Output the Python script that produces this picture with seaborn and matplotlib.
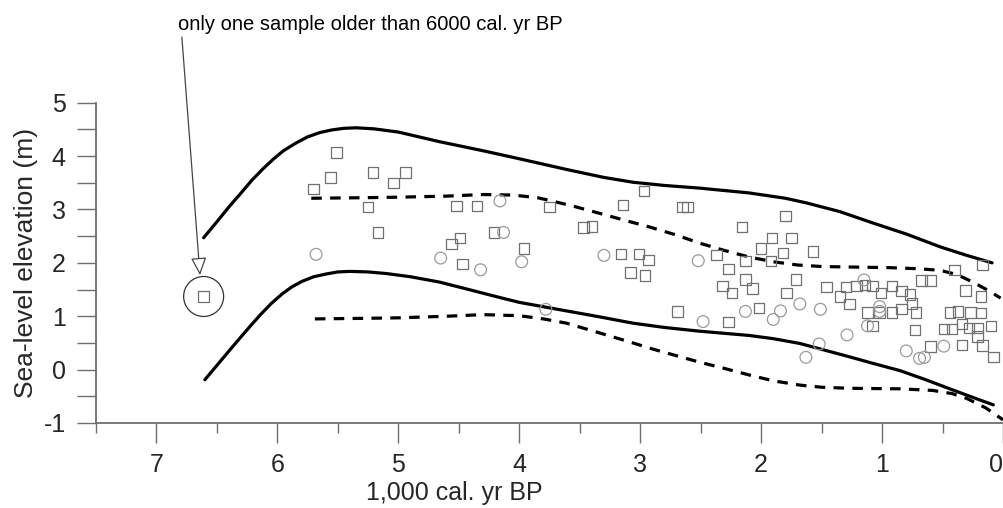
import matplotlib
matplotlib.use("Agg")
import matplotlib.pyplot as plt
from matplotlib.ticker import MultipleLocator
import seaborn as sns
import pandas as pd

# ---- data ----
sq_age = [5.51, 5.56, 5.70, 5.21, 4.94, 5.04, 5.25, 4.52, 4.35, 5.17, 4.49, 4.56, 4.21, 4.47,
          3.75, 3.96, 3.47, 3.40, 3.14, 2.97, 2.65, 2.61, 3.16, 3.01, 2.93, 3.08, 2.96, 2.16,
          2.37, 2.27, 2.32, 2.24, 2.13, 2.13, 2.69, 2.27, 1.80, 1.91, 1.75, 2.00, 1.82, 1.57,
          1.92, 2.07, 1.71, 1.79, 2.02, 1.46, 1.30, 1.21, 1.14, 1.08, 1.35, 1.27, 1.01, 0.92,
          0.84, 0.77, 0.75, 1.12, 1.02, 0.92, 0.84, 0.72, 1.08, 0.73, 0.675, 0.60, 0.40, 0.17,
          0.31, 0.18, 0.44, 0.37, 0.27, 0.18, 0.34, 0.49, 0.42, 0.28, 0.21, 0.10, 0.21, 0.60,
          0.34, 0.17, 0.08, 6.61]
sq_elev = [4.07, 3.60, 3.38, 3.69, 3.69, 3.50, 3.05, 3.07, 3.07, 2.57, 2.47, 2.35, 2.57, 1.98,
           3.05, 2.27, 2.66, 2.68, 3.08, 3.35, 3.05, 3.05, 2.17, 2.17, 2.05, 1.82, 1.76, 2.67,
           2.15, 1.88, 1.57, 1.43, 2.03, 1.69, 1.09, 0.89, 2.88, 2.46, 2.46, 2.27, 2.19, 2.21,
           2.04, 1.52, 1.69, 1.43, 1.15, 1.55, 1.55, 1.57, 1.59, 1.57, 1.37, 1.23, 1.43, 1.57,
           1.47, 1.41, 1.24, 1.07, 1.07, 1.07, 1.13, 1.07, 0.82, 0.74, 1.67, 1.67, 1.87, 1.96,
           1.48, 1.37, 1.07, 1.09, 1.07, 1.06, 0.86, 0.76, 0.76, 0.78, 0.78, 0.82, 0.62, 0.43,
           0.46, 0.45, 0.24, 1.37]

ci_age = [5.68, 4.16, 4.13, 4.65, 4.32, 3.98, 3.30, 2.52, 3.78, 2.48, 2.13, 1.15, 1.02, 1.02,
          1.84, 1.90, 1.68, 1.51, 1.12, 1.29, 1.52, 1.63, 0.80, 0.69, 0.65, 0.49]
ci_elev = [2.16, 3.16, 2.57, 2.09, 1.87, 2.02, 2.14, 2.04, 1.13, 0.90, 1.09, 1.68, 1.18, 1.09,
           1.10, 0.94, 1.23, 1.13, 0.82, 0.65, 0.48, 0.23, 0.35, 0.21, 0.23, 0.44]

up_solid_age = [6.61, 6.50, 6.40, 6.30, 6.21, 6.12, 6.03, 5.95, 5.85, 5.75, 5.65, 5.55, 5.45,
                5.35, 5.20, 5.00, 4.66, 4.30, 4.00, 3.61, 3.30, 3.06, 2.80, 2.51, 2.10, 1.80,
                1.62, 1.35, 1.08, 0.80, 0.52, 0.30, 0.09]
up_solid_elev = [2.47, 2.77, 3.05, 3.31, 3.55, 3.76, 3.95, 4.10, 4.24, 4.36, 4.44, 4.49, 4.52,
                 4.53, 4.51, 4.45, 4.27, 4.10, 3.95, 3.75, 3.60, 3.51, 3.45, 3.40, 3.31, 3.21,
                 3.12, 2.96, 2.75, 2.54, 2.30, 2.14, 2.00]

lo_solid_age = [6.60, 6.50, 6.40, 6.31, 6.23, 6.14, 6.05, 5.96, 5.88, 5.80, 5.70, 5.60, 5.50,
                5.40, 5.25, 5.10, 4.90, 4.66, 4.40, 4.16, 4.00, 3.61, 3.34, 3.06, 2.80, 2.51,
                2.10, 1.90, 1.68, 1.50, 1.27, 1.08, 0.85, 0.65, 0.44, 0.25, 0.08]
lo_solid_elev = [-0.19, 0.08, 0.35, 0.59, 0.80, 1.03, 1.24, 1.42, 1.55, 1.65, 1.74, 1.79, 1.83,
                 1.84, 1.83, 1.80, 1.74, 1.64, 1.49, 1.35, 1.26, 1.10, 0.99, 0.87, 0.79, 0.72,
                 0.64, 0.58, 0.49, 0.38, 0.24, 0.12, -0.02, -0.18, -0.36, -0.52, -0.66]

up_dash_age = [5.72, 5.30, 5.00, 4.60, 4.30, 4.05, 3.85, 3.75, 3.55, 3.34, 3.10, 2.92, 2.70,
               2.51, 2.30, 2.10, 1.90, 1.70, 1.49, 1.20, 0.94, 0.70, 0.52, 0.38, 0.25, 0.12, 0.02]
up_dash_elev = [3.21, 3.22, 3.23, 3.25, 3.28, 3.27, 3.22, 3.17, 3.06, 2.93, 2.78, 2.67, 2.52,
                2.37, 2.23, 2.11, 2.02, 1.96, 1.93, 1.92, 1.91, 1.89, 1.86, 1.78, 1.64, 1.48, 1.34]

lo_dash_age = [5.69, 5.30, 5.00, 4.60, 4.30, 4.00, 3.80, 3.61, 3.34, 3.06, 2.92, 2.70, 2.51,
               2.30, 2.10, 1.90, 1.68, 1.50, 1.27, 0.85, 0.58, 0.42, 0.30, 0.14, 0.00]
lo_dash_elev = [0.95, 0.96, 0.97, 1.00, 1.03, 1.01, 0.95, 0.87, 0.69, 0.50, 0.40, 0.26, 0.14,
                0.02, -0.10, -0.21, -0.29, -0.33, -0.35, -0.36, -0.39, -0.45, -0.54, -0.72, -0.94]

x_ticks = [7, 6, 5, 4, 3, 2, 1, 0]
y_ticks = [-1, 0, 1, 2, 3, 4, 5]
note_text = "only one sample older than 6000 cal. yr BP"
old_sample = (6.61, 1.37)

# ---- style ----
sns.set_theme(style="white")
plt.rcParams['font.family'] = ['Liberation Sans', 'DejaVu Sans']

fig = plt.figure(figsize=(10.04, 5.08), dpi=100)
ax = fig.add_axes([96 / 1004, 1 - 423 / 508, (1003 - 96) / 1004, (423 - 102.7) / 508])

grey_axis = '#6e6e6e'

# curves
curve_lw = 2.3
for xs, ys, ls in [(up_solid_age, up_solid_elev, '-'), (lo_solid_age, lo_solid_elev, '-'),
                   (up_dash_age, up_dash_elev, (0, (3.3, 2.6))),
                   (lo_dash_age, lo_dash_elev, (0, (3.3, 2.6)))]:
    d = pd.DataFrame({'age': xs, 'elev': ys})
    sns.lineplot(data=d, x='age', y='elev', sort=False, estimator=None, ax=ax,
                 color='black', lw=curve_lw, linestyle=ls)

# samples
sq = pd.DataFrame({'age': sq_age, 'elev': sq_elev})
ci = pd.DataFrame({'age': ci_age, 'elev': ci_elev})
sns.scatterplot(data=sq, x='age', y='elev', marker='s', s=56, facecolor='none',
                edgecolor='#707070', linewidth=0.9, ax=ax, zorder=3)
sns.scatterplot(data=ci, x='age', y='elev', marker='o', s=72, facecolor='none',
                edgecolor='#9a9a9a', linewidth=0.9, ax=ax, zorder=3)

# highlight circle around the old sample
ax.scatter([old_sample[0]], [old_sample[1]], s=28.8 ** 2, marker='o', facecolor='none',
           edgecolor='#333333', linewidth=0.9, zorder=3)

# annotation
fig.text(178 / 1004, 1 - 24 / 508, note_text, fontsize=14.5, ha='left', va='center',
         color='black')
ax.annotate('', xy=(6.64, 1.77), xytext=(6.79, 6.23), xycoords='data', textcoords='data',
            annotation_clip=False,
            arrowprops=dict(arrowstyle='-|>,head_length=0.9,head_width=0.4', lw=0.9,
                            edgecolor='#444444', facecolor='white', shrinkA=0, shrinkB=0))

# axes
ax.set_xlim(7.5, 0)
ax.set_ylim(-1, 5)
ax.set_xticks(x_ticks)
ax.set_xticklabels([str(t) for t in x_ticks])
ax.set_yticks(y_ticks)
ax.set_yticklabels([str(t) for t in y_ticks])
ax.xaxis.set_minor_locator(MultipleLocator(0.5))
ax.yaxis.set_minor_locator(MultipleLocator(0.5))
ax.tick_params(axis='x', which='major', direction='out', length=14.4, width=1.0,
               color=grey_axis, labelsize=18, pad=7, bottom=True)
ax.tick_params(axis='x', which='minor', direction='out', length=7.2, width=1.0,
               color=grey_axis, bottom=True)
ax.tick_params(axis='y', which='both', direction='out', length=13.7, width=1.0,
               color=grey_axis, labelsize=18, pad=8, left=True)
# keep the last tick label ("0") inside the figure at the right edge
ax.get_xticklabels()[-1].set_horizontalalignment('right')

for side in ['top', 'right']:
    ax.spines[side].set_visible(False)
for side in ['left', 'bottom']:
    ax.spines[side].set_color(grey_axis)
    ax.spines[side].set_linewidth(1.3)

ax.set_ylabel('Sea-level elevation (m)', fontsize=19, labelpad=4)
ax.set_xlabel('')
fig.text(0.5 * (96 + 1003) / 1004 - 0.095, 3 / 508, '1,000 cal. yr BP', fontsize=18,
         ha='center', va='bottom')
ax.grid(False)

fig.savefig('out.png', dpi=100)
